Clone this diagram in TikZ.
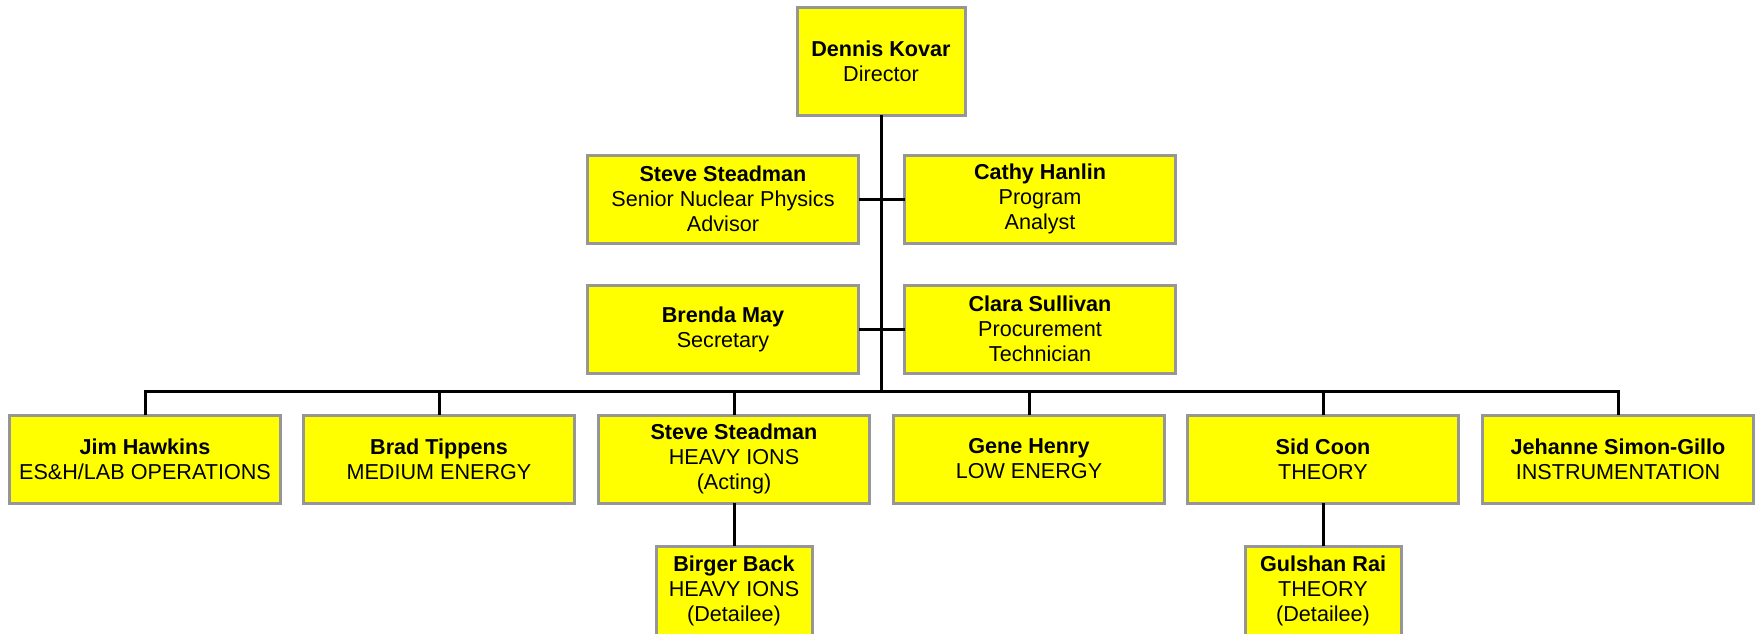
\documentclass[tikz,border=0pt]{standalone}
\usepackage{fontspec}
\setmainfont{Liberation Sans}
\definecolor{boxyellow}{RGB}{255,255,0}
\definecolor{boxgray}{RGB}{150,150,150}
\begin{document}
\begin{tikzpicture}[x=1pt,y=-1pt,
  box/.style={draw=boxgray, line width=3pt, fill=boxyellow, inner sep=0pt, outer sep=0pt,
    align=center, font=\fontsize{21.6}{25}\selectfont},
  wide/.style={box, minimum width=271pt, minimum height=88pt},
  conn/.style={draw=black, line width=3pt}]
\clip (0,0) rectangle (1759,633);
\fill[white] (0,0) rectangle (1759,633);
% top
\node[box, minimum width=168pt, minimum height=108pt] (dir) at (881,61) {\textbf{Dennis Kovar}\\Director};
% staff
\node[wide] (ss) at (723,199) {\textbf{Steve Steadman}\\Senior Nuclear Physics\\Advisor};
\node[wide] (ch) at (1040,199) {\textbf{Cathy Hanlin}\\Program\\Analyst};
\node[wide] (bm) at (723,329) {\textbf{Brenda May}\\Secretary};
\node[wide] (cs) at (1040,329) {\textbf{Clara Sullivan}\\Procurement\\Technician};
% divisions
\node[wide] (jh) at (145,459) {\textbf{Jim Hawkins}\\ES\&H/LAB OPERATIONS};
\node[wide] (bt) at (439,459) {\textbf{Brad Tippens}\\MEDIUM ENERGY};
\node[wide] (hi) at (734,459) {\textbf{Steve Steadman}\\HEAVY IONS\\(Acting)};
\node[wide] (gh) at (1029,459) {\textbf{Gene Henry}\\LOW ENERGY};
\node[wide] (sc) at (1323,459) {\textbf{Sid Coon}\\THEORY};
\node[wide] (js) at (1618,459) {\textbf{Jehanne Simon-Gillo}\\INSTRUMENTATION};
% detailees
\node[box, minimum width=156pt, minimum height=90pt] (bb) at (734,591) {\textbf{Birger Back}\\HEAVY IONS\\(Detailee)};
\node[box, minimum width=156pt, minimum height=90pt] (gr) at (1323,591) {\textbf{Gulshan Rai}\\THEORY\\(Detailee)};
% connectors
\coordinate (bar) at (881,391);
\draw[conn] (dir.south) -- (bar);
\draw[conn] (ss.east) -- (ch.west);
\draw[conn] (bm.east) -- (cs.west);
\draw[conn] (jh.north) |- (bar) -| (js.north);
\draw[conn] (bt.north) -- (bt.north |- bar);
\draw[conn] (hi.north) -- (hi.north |- bar);
\draw[conn] (gh.north) -- (gh.north |- bar);
\draw[conn] (sc.north) -- (sc.north |- bar);
\draw[conn] (hi.south) -- (bb.north);
\draw[conn] (sc.south) -- (gr.north);
\end{tikzpicture}
\end{document}
